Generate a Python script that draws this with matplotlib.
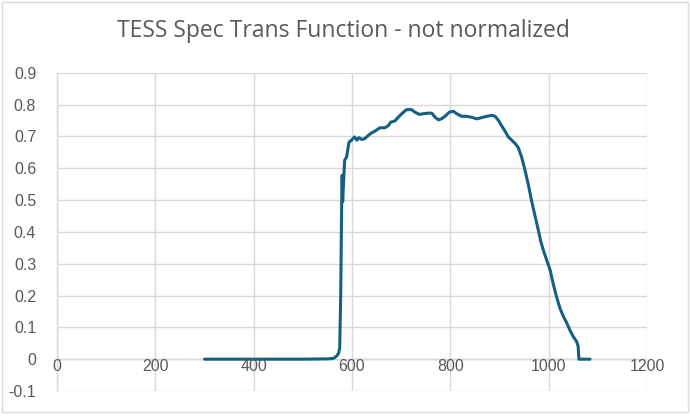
import matplotlib
matplotlib.use("Agg")
import matplotlib.pyplot as plt
from matplotlib.patches import Rectangle

# ------------------------------------------------------------
#  Data
# ------------------------------------------------------------
wavelength = [300, 400, 500, 550, 560, 565, 570, 573, 575, 577, 579, 580, 581,
              583, 585, 589, 594, 599, 605, 610, 614, 620, 626, 637, 647, 657,
              667, 674, 679, 687, 694, 701, 711, 721, 728, 737, 745, 755, 762,
              769, 776, 782, 789, 798, 806, 813, 823, 833, 843, 854, 864, 874,
              884, 891, 898, 904, 911, 918, 925, 932, 938, 945, 952, 959, 965,
              972, 979, 984, 989, 996, 1003, 1009, 1016, 1023, 1030, 1037, 1043,
              1050, 1057, 1060, 1061.5, 1070, 1084]
transmission = [0.0, 0.0, 0.0, 0.001, 0.002, 0.005, 0.012, 0.02, 0.035, 0.2,
                0.49, 0.578, 0.495, 0.56, 0.625, 0.635, 0.682, 0.688, 0.698,
                0.688, 0.696, 0.69, 0.693, 0.708, 0.717, 0.727, 0.727, 0.734,
                0.745, 0.748, 0.76, 0.771, 0.784, 0.784, 0.776, 0.769, 0.771,
                0.773, 0.773, 0.76, 0.752, 0.755, 0.763, 0.776, 0.779, 0.771,
                0.763, 0.763, 0.76, 0.755, 0.759, 0.763, 0.766, 0.763, 0.75,
                0.734, 0.717, 0.698, 0.688, 0.677, 0.665, 0.635, 0.593, 0.546,
                0.499, 0.452, 0.405, 0.37, 0.343, 0.311, 0.28, 0.238, 0.196,
                0.16, 0.134, 0.113, 0.092, 0.071, 0.055, 0.04, 0.0, 0.0, 0.0]

x_ticks = [0, 200, 400, 600, 800, 1000, 1200]
y_ticks = [-0.1, 0, 0.1, 0.2, 0.3, 0.4, 0.5, 0.6, 0.7, 0.8, 0.9]
titre = "TESS Spec Trans Function - not normalized"

# ------------------------------------------------------------
#  Figure
# ------------------------------------------------------------
gris_txt = "#595959"
gris_grille = "#D9D9D9"

fig = plt.figure(figsize=(6.9, 4.16), dpi=100)
ax = fig.add_axes([57 / 690, 1 - 391 / 416, 590 / 690, 318.3 / 416])

ax.plot(wavelength, transmission, color="#156082", linewidth=2.2,
        solid_joinstyle="round", solid_capstyle="round", zorder=3)

ax.set_xlim(0, 1200)
ax.set_ylim(-0.1, 0.9)
ax.set_xticks(x_ticks)
ax.set_yticks(y_ticks)
ax.set_yticklabels(["-0.1", "0"] + [f"{v:.1f}" for v in y_ticks[2:]])

ax.grid(True, color=gris_grille, linewidth=1.0, zorder=0)
for s in ["top", "right", "bottom"]:
    ax.spines[s].set_visible(False)
ax.spines["left"].set_color(gris_grille)
ax.spines["left"].set_linewidth(1.0)
ax.axhline(0, color="#BFBFBF", linewidth=1.0, zorder=1)

ax.tick_params(axis="both", length=0, colors=gris_txt)
ax.tick_params(axis="y", pad=15)
for lab in ax.get_yticklabels():
    lab.set_fontfamily("Liberation Sans")
    lab.set_fontsize(11.5)
    lab.set_color(gris_txt)

# x labels sit just below the zero line, as in Excel
ax.set_xticklabels([])
for v in x_ticks:
    ax.text(v, -0.0215, str(v), ha="center", va="center", fontsize=11.5,
            family="Liberation Sans", color=gris_txt,
            transform=ax.transData, clip_on=False)

fig.text(0.5 - 2 / 690, 1 - 31 / 416, titre, ha="center", va="center",
         fontsize=16.5, family="Open Sans", color=gris_txt)

# chart area border
fig.patches.append(Rectangle((1.5 / 690, 4.5 / 416), 686 / 690, 410 / 416,
                             transform=fig.transFigure, fill=False,
                             edgecolor=gris_grille, linewidth=1.0))

fig.savefig("out.png", dpi=100)
